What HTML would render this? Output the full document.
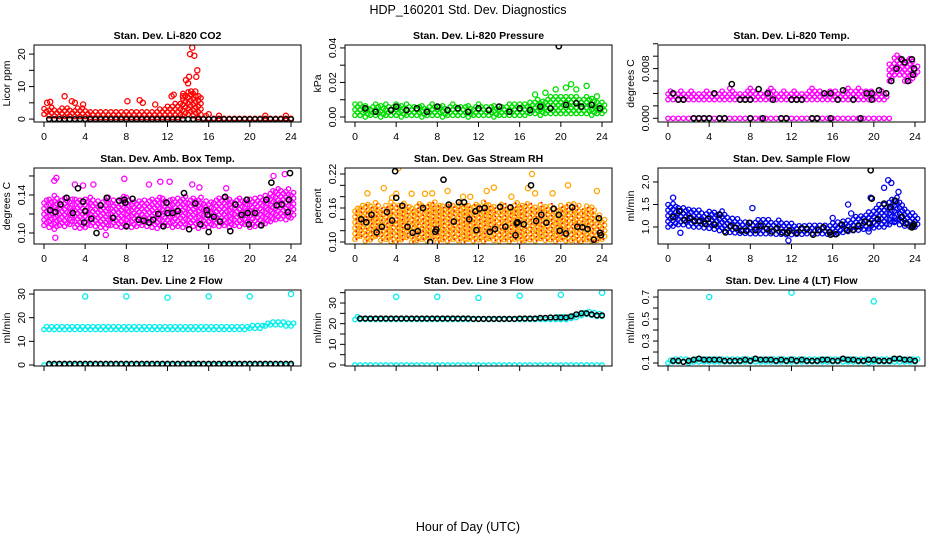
<!DOCTYPE html>
<html><head><meta charset="utf-8"><style>
body{margin:0;background:#fff;width:936px;height:540px;overflow:hidden}
svg{font-family:"Liberation Sans",sans-serif}
</style></head><body>
<svg id="c" width="936" height="540" viewBox="0 0 936 540">
<text x="468" y="14" text-anchor="middle" font-size="12.5">HDP_160201  Std. Dev. Diagnostics</text>
<text x="468" y="531" text-anchor="middle" font-size="12.5">Hour of Day (UTC)</text>
</svg>
<script>
// half-hour times
const T=[0,0.5,1,1.5,2,2.5,3,3.5,4,4.5,5,5.5,6,6.5,7,7.5,8,8.5,9,9.5,10,10.5,11,11.5,12,12.5,13,13.5,14,14.5,15,15.5,16,16.5,17,17.5,18,18.5,19,19.5,20,20.5,21,21.5,22,22.5,23,23.5,24];
const xTicks=[0,4,8,12,16,20,24];
// CO2
const co2Lo=[1.5,1,1,.8,.8,1,.8,.8,.8,.5,.5,.5,.5,.5,.5,.5,.5,.5,.5,.5,.5,.5,.5,.5,.5,.5,.5,1,1.5,1,.5,.2,.2,.2,.2,.2,.2,.2,.2,.2,.2,.2,.2,.2,.2,.2,.2,.2,.2];
const co2Hi=[3.5,4,3.5,3.5,3.8,3.5,3.5,3.5,3.2,3,2.8,3,2.6,2.8,3,2.6,2.8,2.5,3,2.6,2.8,3,3.5,3.5,4.5,5,5.5,8,9,8.5,7,1.5,.8,.8,.9,.8,.8,.8,.8,.9,.8,.8,.8,.9,.8,.8,.9,.8,.8];
const co2OutX=[2,0.3,0.6,2.7,3,3.8,8.1,9.3,9.6,10.8,12.4,12.6,13.5,13.8,14,14.1,14.2,14.4,14.6,14.8,14.9,15,14.3,14.7,16,17,21.5,23.5];
const co2OutY=[7,5,5.3,5.5,5,4.5,5.5,5.8,5,4.5,7,7.5,7,12,11,13,20,22,19.5,13,15,7,8.5,8.5,1.5,1,1,1];
const co2BlkY=[null,0,0,0,0,0,0,0,0,0,0,0,0,0,0,0,0,0,0,0,0,0,0,0,0,0,0,0,0,0,0,0,0,0,0,0,0,0,0,0,0,0,0,0,0,0,0,0,0];
// Pressure
const prLo=[.001,.001,0,.001,.001,0,.001,.001,.001,0,.001,.001,.001,0,.001,.001,.001,0,.001,.001,.001,.001,0,.001,.001,.001,.001,0,.001,.001,.001,.001,.001,.001,.002,.002,.001,.002,.002,.002,.002,.002,.002,.002,.002,.002,.001,.002,.002];
const prHi=[.009,.008,.008,.007,.008,.007,.008,.007,.009,.008,.008,.007,.007,.008,.007,.008,.007,.007,.007,.008,.007,.007,.008,.007,.008,.007,.007,.008,.007,.007,.008,.008,.009,.009,.01,.011,.01,.011,.012,.012,.013,.013,.012,.012,.011,.012,.012,.01,.01];
const prOutX=[18.5,19.5,20.5,21.5,22.5,23.5,21,17.5];
const prOutY=[.014,.016,.017,.016,.018,.012,.019,.013];
const prBlkX=[1,2,3.5,4,5,6,7,8,9,10,11,12,13,14,15,16,17,18,19,19.8,20.5,21.5,22,23,23.8];
const prBlkY=[.005,.003,.004,.006,.004,.005,.003,.006,.004,.005,.003,.005,.004,.006,.003,.005,.004,.006,.005,.041,.007,.008,.006,.007,.005];
// Li-820 temp
const tpLo=[.003,.003,.003,.003,.003,.003,.003,.003,.003,.003,.003,.003,.003,.003,.003,.003,.003,.003,.003,.003,.003,.003,.003,.003,.003,.003,.003,.003,.003,.003,.003,.003,.003,.003,.003,.003,.003,.003,.003,.003,.003,.003,.003,.006,.007,.007,.006,.006,.007];
const tpHi=[.0045,.004,.0045,.004,.0045,.004,.004,.0045,.004,.004,.0045,.004,.005,.004,.004,.0045,.005,.004,.004,.0045,.005,.004,.0045,.004,.0045,.004,.004,.0045,.005,.0045,.004,.0045,.0045,.004,.0045,.005,.0045,.005,.0045,.0045,.004,.0045,.004,.009,.0105,.01,.0095,.01,.0085];
const tpZero=[0,0,0,0,0,0,0,0,0,0,0,0,0,0,0,0,0,0,0,0,0,0,0,0,0,0,0,0,0,0,0,0,0,0,0,0,0,0,0,0,0,0,0,0,null,null,null,null,null];
const tpBlkX=[0.5,1,1.5,2.5,3,3.5,4,4.5,5,5.5,6.2,7,7.5,8,8,8.8,9.2,9.7,10.2,11,11.5,12,12.5,13,14,14.5,15.2,15.8,15.8,16.5,17,18,18.7,19.3,19.8,19.8,20.5,21.2,21.7,22.2,22.7,23,23.3,23.7,23.8,23.9];
const tpBlkY=[.004,.003,.003,0,0,0,0,.004,0,0,.0055,.003,.003,.003,0,.0047,0,.004,.003,0,0,.003,.003,.003,0,0,.004,.004,0,.003,.0045,.003,0,.004,.004,.003,.0045,.004,.006,.008,.0095,.009,.006,.0095,.007,.008];
// Amb box temp
const abLo=[.108,.106,.104,.108,.107,.109,.106,.105,.106,.108,.107,.106,.105,.108,.107,.106,.108,.106,.107,.108,.107,.106,.105,.107,.108,.106,.107,.106,.108,.107,.105,.107,.106,.108,.107,.108,.106,.108,.107,.109,.106,.107,.108,.11,.112,.114,.115,.114,.116];
const abHi=[.136,.138,.14,.137,.139,.136,.138,.135,.137,.138,.136,.135,.138,.137,.136,.139,.138,.135,.136,.137,.135,.136,.138,.137,.136,.138,.137,.139,.136,.137,.138,.136,.135,.136,.137,.139,.136,.137,.138,.136,.137,.138,.139,.142,.146,.148,.147,.149,.145];
const abOutX=[1,1.2,3,3.8,4.8,7.8,10.2,11.3,12.2,14.4,15.1,17.7,22.3,23.4,6,1.1];
const abOutY=[.155,.158,.151,.15,.151,.157,.151,.154,.154,.151,.148,.147,.16,.162,.098,.095];
const abBlkX=[0.6,1.1,1.6,2.2,2.8,3.3,3.8,3.9,4,4.6,5.1,5.5,6.1,6.7,7.3,7.8,7.9,8,8.6,9.2,9.7,10.2,10.6,11.1,11.6,11.9,12,12.5,13,13.6,14.1,14.7,15.2,15.8,15.9,16,16.5,17.1,17.6,18.1,18.6,19.2,19.7,19.8,19.9,20.5,21.1,21.6,22.1,22.6,23.1,23.7,23.8,23.9];
const abBlkY=[.124,.122,.13,.137,.121,.147,.133,.111,.123,.115,.1,.129,.137,.116,.134,.135,.132,.107,.136,.114,.113,.111,.114,.12,.107,.132,.121,.121,.123,.142,.104,.131,.109,.124,.119,.101,.117,.112,.138,.102,.13,.119,.135,.121,.109,.121,.108,.135,.153,.129,.13,.122,.135,.163];
// Gas stream RH
const rhLo=[.105,.11,.102,.104,.11,.103,.105,.101,.1,.104,.108,.1,.103,.105,.102,.106,.1,.104,.102,.105,.103,.1,.105,.102,.104,.101,.106,.103,.102,.104,.101,.105,.1,.103,.104,.102,.106,.103,.104,.101,.105,.102,.103,.1,.101,.104,.102,.103,.105];
const rhHi=[.16,.165,.17,.165,.17,.16,.165,.17,.168,.17,.165,.16,.17,.168,.17,.172,.168,.165,.17,.168,.17,.165,.168,.17,.165,.172,.168,.165,.17,.168,.165,.172,.165,.17,.168,.165,.17,.165,.168,.16,.165,.168,.17,.165,.16,.165,.162,.15,.14];
const rhOutX=[1.2,2.8,4,4.2,5.5,6.8,7.5,9,10.5,11.2,12.8,13.5,15.2,16.8,17.2,17.5,19.2,20.7,23.5,3.6];
const rhOutY=[.186,.195,.185,.23,.185,.185,.186,.19,.18,.18,.19,.196,.18,.195,.22,.186,.186,.2,.19,.178];
const rhBlkX=[0.6,1.1,1.6,2.1,2.6,3.1,3.6,3.9,4,4.6,5.1,5.6,6.1,6.6,7.3,7.8,7.9,8.6,9.1,9.6,10.1,10.6,11.1,11.7,11.8,12.1,12.6,13.1,13.6,14.1,14.6,15.1,15.6,15.7,15.8,16.4,17.1,17.6,18.1,18.6,19.3,19.8,19.9,20.5,21.1,21.6,22.1,22.6,23.2,23.7,23.8,23.9];
const rhBlkY=[.14,.135,.148,.117,.127,.153,.138,.225,.178,.164,.127,.116,.119,.16,.1,.118,.122,.21,.166,.136,.17,.17,.14,.154,.121,.159,.16,.118,.123,.162,.127,.161,.112,.133,.135,.131,.2,.137,.148,.134,.159,.148,.12,.115,.161,.127,.126,.123,.104,.142,.116,.112];
// Sample flow
const sfLo=[1.0,1.02,1.05,1.05,1.02,1.0,1.0,0.98,0.97,0.95,0.92,0.9,0.88,0.87,0.86,0.86,0.85,0.85,0.85,0.85,0.85,0.84,0.84,0.83,0.83,0.84,0.84,0.85,0.85,0.85,0.85,0.84,0.84,0.86,0.88,0.9,0.92,0.93,0.95,0.96,0.98,1.0,1.0,1.05,1.1,1.05,1.02,1.0,1.0];
const sfHi=[1.5,1.55,1.48,1.45,1.42,1.4,1.38,1.35,1.35,1.38,1.4,1.3,1.22,1.18,1.15,1.15,1.15,1.18,1.2,1.18,1.15,1.15,1.12,1.12,1.1,1.08,1.07,1.07,1.06,1.05,1.05,1.08,1.1,1.12,1.15,1.2,1.25,1.28,1.3,1.35,1.45,1.5,1.55,1.65,1.7,1.6,1.45,1.35,1.3];
const sfOutX=[0.5,1.2,8.2,11.7,17.5,19.5,19.7,21,21.4,21.7,22,22.4,17.8,16];
const sfOutY=[1.65,0.87,1.42,0.7,1.5,0.9,1.65,1.87,2.04,1.98,1.13,1.78,1.3,1.2];
const sfBlkX=[0.5,1.1,1.6,2.1,2.6,3.1,3.6,3.9,4.5,5,5.6,6.1,6.6,7.1,7.6,7.9,8.5,9,9.6,10.1,10.6,11.1,11.6,11.8,12.5,13,13.5,14.1,14.6,15.1,15.7,15.8,16.3,16.9,17.4,18,18.5,19.1,19.6,19.7,19.8,20.4,21,21.6,22.1,22.7,23.1,23.7,23.8,23.9];
const sfBlkY=[1.22,1.35,1.15,1.2,1.13,1.13,1.07,1.18,1.05,1.27,0.88,1.02,0.98,0.92,0.92,1.09,0.93,1.03,0.96,0.9,0.97,0.88,0.87,0.92,0.87,0.97,0.95,0.83,0.93,0.99,0.88,0.83,0.84,1.05,0.93,0.94,1.02,1.12,1.08,2.26,1.63,1.17,1.52,1.44,1.58,1.22,1.08,0.99,1.02,1.06];
// Line 2 flow
const l2Lo=[15,15,15,15,15,15,15,15,15,15,15,15,15,15,15,15,15,15,15,15,15,15,15,15,15,15,15,15,15,15,15,15,15,15,15,15,15,15,15,15,15.5,15.5,15.5,16.5,17,17,17,16.5,16.5];
const l2Hi=[16.5,16.5,16.3,16.3,16.5,16.3,16.3,16.5,16.5,16.3,16.3,16.3,16.3,16.5,16.3,16.3,16.5,16.3,16.3,16.3,16.5,16.3,16.3,16.3,16.3,16.3,16.3,16.3,16.3,16.3,16.5,16.3,16.5,16.3,16.3,16.5,16.5,16.5,16.8,17,17.2,17.2,17.5,18.5,18.7,18.5,18.5,18.3,18];
const l2Zero=[0.8,0.8,0.8,0.8,0.8,0.8,0.8,0.8,0.8,0.8,0.8,0.8,0.8,0.8,0.8,0.8,0.8,0.8,0.8,0.8,0.8,0.8,0.8,0.8,0.8,0.8,0.8,0.8,0.8,0.8,0.8,0.8,0.8,0.8,0.8,0.8,0.8,0.8,0.8,0.8,0.8,0.8,0.8,0.8,0.8,0.8,0.8,0.8,0.8];
const l2OutX=[4,8,12,16,20,24];
const l2OutY=[29,29,28.5,29,29,30];
const l2BlkY=[null,0.5,0.5,0.5,0.5,0.5,0.5,0.5,0.5,0.5,0.5,0.5,0.5,0.5,0.5,0.5,0.5,0.5,0.5,0.5,0.5,0.5,0.5,0.5,0.5,0.5,0.5,0.5,0.5,0.5,0.5,0.5,0.5,0.5,0.5,0.5,0.5,0.5,0.5,0.5,0.5,0.5,0.5,0.5,0.5,0.5,0.5,0.5,0.5];
// Line 3 flow
const l3Lo=[22,22,22,22,22,22,22,22,22,22,22,22,22,22,22,22,22,22,22,22,22,22,22,22,22,22,22,22,22,22,22,22,22,22,22,22,22,22,22,22,22,22,22.5,23,24,24.5,24,23.5,23.5];
const l3Hi=[23.5,23,23,23,23,23,23,23,23,23,23,23,23,23,23,23,23,23,23,23,23,23,23,23,23,23,23,23,23,23,23,23,23,23,23,23,23,23,23.2,23.4,23.5,23.8,24.5,25.5,26,26,25.5,25,24.5];
const l3Zero=[1,1,1,1,1,1,1,1,1,1,1,1,1,1,1,1,1,1,1,1,1,1,1,1,1,1,1,1,1,1,1,1,1,1,1,1,1,1,1,1,1,1,1,1,1,1,1,1,1];
const l3OutX=[4,8,12,16,20,24];
const l3OutY=[33,33,32.5,33.5,34,35];
const l3BlkY=[null,22.5,22.5,22.5,22.5,22.5,22.5,22.5,22.5,22.5,22.5,22.5,22.5,22.5,22.5,22.5,22.5,22.5,22.5,22.5,22.5,22.5,22.5,22.3,22.3,22.3,22.3,22.3,22.3,22.3,22.3,22.3,22.5,22.5,22.5,22.5,22.8,22.8,23,23,23,23,23.5,24.5,25,25,24.5,24,24];
// Line 4 flow
const l4Lo=[0.1,0.11,0.11,0.11,0.1,0.11,0.11,0.11,0.11,0.11,0.11,0.11,0.11,0.11,0.11,0.11,0.11,0.11,0.11,0.11,0.11,0.11,0.11,0.11,0.11,0.11,0.11,0.11,0.11,0.11,0.11,0.11,0.11,0.11,0.11,0.11,0.11,0.11,0.11,0.1,0.11,0.11,0.11,0.11,0.11,0.11,0.11,0.11,0.11];
const l4Hi=[0.15,0.15,0.14,0.15,0.15,0.16,0.15,0.15,0.16,0.15,0.15,0.15,0.15,0.15,0.15,0.16,0.15,0.15,0.15,0.15,0.15,0.15,0.15,0.15,0.16,0.15,0.15,0.15,0.15,0.15,0.16,0.16,0.15,0.15,0.15,0.16,0.15,0.15,0.15,0.15,0.15,0.15,0.15,0.15,0.16,0.15,0.15,0.15,0.15];
const l4OutX=[4,12,20];
const l4OutY=[0.7,0.74,0.66];
const l4BlkY=[null,0.12,0.12,0.11,0.12,0.13,0.14,0.13,0.13,0.13,0.13,0.12,0.12,0.12,0.12,0.13,0.12,0.14,0.13,0.13,0.13,0.12,0.13,0.12,0.13,0.12,0.13,0.12,0.12,0.12,0.13,0.13,0.12,0.12,0.14,0.13,0.13,0.12,0.12,0.13,0.13,0.12,0.12,0.12,0.14,0.14,0.13,0.13,0.12];

const NS="http://www.w3.org/2000/svg";
const svg=document.getElementById('c');
function mk(tag,attrs,parent){const e=document.createElementNS(NS,tag);for(const k in attrs)e.setAttribute(k,attrs[k]);(parent||svg).appendChild(e);return e;}

const cols=[[34,301],[345,612],[658,925]];
const rows=[[45,122],[168,244],[290,366]];

const panels=[
 {c:0,r:0,title:"Stan. Dev. Li-820 CO2",yl:"Licor ppm",d:[-0.9,22.8],ticks:[0,5,10,15,20],labs:[0,10,20],fmt:v=>String(v),xl:true,
  bands:[[co2Lo,co2Hi,"#ff0000"]],outs:[[co2OutX,co2OutY,"#ff0000"]],blkT:co2BlkY},
 {c:1,r:0,title:"Stan. Dev. Li-820 Pressure",yl:"kPa",d:[-0.0029,0.0417],ticks:[0,.01,.02,.03,.04],labs:[0,.02,.04],fmt:v=>v.toFixed(2),xl:true,
  bands:[[prLo,prHi,"#00dd00"]],outs:[[prOutX,prOutY,"#00dd00"]],blkX:prBlkX,blkY:prBlkY},
 {c:2,r:0,title:"Stan. Dev. Li-820 Temp.",yl:"degrees C",d:[-0.0006,0.0118],ticks:[0,.002,.004,.006,.008,.010,.012],labs:[0,.008],fmt:v=>v.toFixed(3),xl:true,
  bands:[[tpLo,tpHi,"#ff00ff"],[tpZero,tpZero,"#ff00ff"]],outs:[],blkX:tpBlkX,blkY:tpBlkY},
 {c:0,r:1,title:"Stan. Dev. Amb. Box Temp.",yl:"degrees C",d:[0.0884,0.1684],ticks:[.10,.12,.14,.16],labs:[.10,.14],fmt:v=>v.toFixed(2),xl:true,
  bands:[[abLo,abHi,"#ff00ff"]],outs:[[abOutX,abOutY,"#ff00ff"]],blkX:abBlkX,blkY:abBlkY},
 {c:1,r:1,title:"Stan. Dev. Gas Stream RH",yl:"percent",d:[0.0965,0.2306],ticks:[.10,.12,.14,.16,.18,.20,.22],labs:[.10,.16,.22],fmt:v=>v.toFixed(2),xl:true,
  bands:[[rhLo,rhHi,"#ffa500"]],outs:[[rhOutX,rhOutY,"#ffa500"]],rhMix:true,blkX:rhBlkX,blkY:rhBlkY},
 {c:2,r:1,title:"Stan. Dev. Sample Flow",yl:"ml/min",d:[0.622,2.31],ticks:[1.0,1.5,2.0],labs:[1.0,1.5,2.0],fmt:v=>v.toFixed(1),xl:true,
  bands:[[sfLo,sfHi,"#0000ee"]],outs:[[sfOutX,sfOutY,"#0000ee"]],blkX:sfBlkX,blkY:sfBlkY},
 {c:0,r:2,title:"Stan. Dev. Line 2 Flow",yl:"ml/min",d:[-0.42,31.7],ticks:[0,10,20,30],labs:[0,10,20,30],fmt:v=>String(v),xl:false,
  bands:[[l2Lo,l2Hi,"#00eeee"],[l2Zero.map(()=>0),l2Zero,"#00eeee"]],outs:[[l2OutX,l2OutY,"#00eeee"]],blkT:l2BlkY},
 {c:1,r:2,title:"Stan. Dev. Line 3 Flow",yl:"ml/min",d:[-0.48,36.3],ticks:[0,5,10,15,20,25,30,35],labs:[0,10,20,30],fmt:v=>String(v),xl:false,
  bands:[[l3Lo,l3Hi,"#00eeee"],[l3Zero.map(()=>0),l3Zero,"#00eeee"]],outs:[[l3OutX,l3OutY,"#00eeee"]],blkT:l3BlkY},
 {c:2,r:2,title:"Stan. Dev. Line 4 (LT) Flow",yl:"ml/min",d:[0.073,0.764],ticks:[.1,.2,.3,.4,.5,.6,.7],labs:[.1,.3,.5,.7],fmt:v=>v.toFixed(1),xl:false,
  bands:[[l4Lo,l4Hi,"#00eeee"]],outs:[[l4OutX,l4OutY,"#00eeee"]],blkT:l4BlkY},
];

panels.forEach((p,pi)=>{
 const [L,R]=cols[p.c],[Tp,B]=rows[p.r];
 const g=mk('g',{});
 
 
 const xs=t=>L+10+(R-L-20)*t/24;
 const ys=v=>B-(v-p.d[0])/(p.d[1]-p.d[0])*(B-Tp);
 const clip='cp'+pi;
 const cp=mk('clipPath',{id:clip},g);mk('rect',{x:L,y:Tp,width:R-L,height:B-Tp},cp);
 const pts=mk('g',{'clip-path':'url(#'+clip+')'},g);
 
 
 const circ=(x,y,col,r,w)=>mk('circle',{cx:x.toFixed(1),cy:y.toFixed(1),r:r||2.2,fill:'none',stroke:col,'stroke-width':w||1.3},pts);
 p.bands.forEach(([lo,hi,col])=>{
  T.forEach((t,i)=>{
   if(lo[i]==null||hi[i]==null)return;
   const y1=ys(hi[i]),y0=ys(lo[i]);
   let k=0;
   for(let y=y0;y>=y1-0.1;y-=2.8){circ(xs(t)+((k++%2)?2.6:0),y,col);}
   if(p.rhMix){for(let y=y0;y>=y1;y-=4)mk('circle',{cx:xs(t)+1.3,cy:y.toFixed(1),r:0.9,fill:'#ff0000'},pts);}
  });
 });
 p.outs.forEach(([X,Y,col])=>X.forEach((x,i)=>circ(xs(x),ys(Y[i]),col,2.6,1.3)));
 if(p.blkT)T.forEach((t,i)=>{if(p.blkT[i]!=null)circ(xs(t),ys(p.blkT[i]),'#000',2.4,1.5);});
 if(p.blkX)p.blkX.forEach((x,i)=>circ(xs(x),ys(p.blkY[i]),'#000',2.6,1.5));
 const bx=mk('rect',{x:L,y:Tp,width:R-L,height:B-Tp,fill:'none',stroke:'#000','stroke-width':1},g);
 
 
 xTicks.forEach(t=>{
  mk('line',{x1:xs(t),x2:xs(t),y1:B,y2:B+5,stroke:'#000'},g);
  if(p.xl){const tx=mk('text',{x:xs(t),y:B+18,'text-anchor':'middle','font-size':10.5},g);tx.textContent=t;
   
   }
 });
 p.ticks.forEach(v=>{mk('line',{x1:L-5,x2:L,y1:ys(v),y2:ys(v),stroke:'#000'},g);});
 p.labs.forEach(v=>{
  const y=ys(v);
  const tx=mk('text',{x:L-9,y:y,'text-anchor':'middle','font-size':10.5,transform:`rotate(-90 ${L-9} ${y})`},g);
  tx.textContent=p.fmt(v);
  
  
 });
 const yc=(Tp+B)/2;
 const yl=mk('text',{x:L-24,y:yc,'text-anchor':'middle','font-size':10.5,transform:`rotate(-90 ${L-24} ${yc})`},g);
 yl.textContent=p.yl;
 
 
 const ti=mk('text',{x:(L+R)/2,y:Tp-6,'text-anchor':'middle','font-size':10.5,'font-weight':'bold'},g);
 ti.textContent=p.title;
 
 
});
</script>
</body></html>
